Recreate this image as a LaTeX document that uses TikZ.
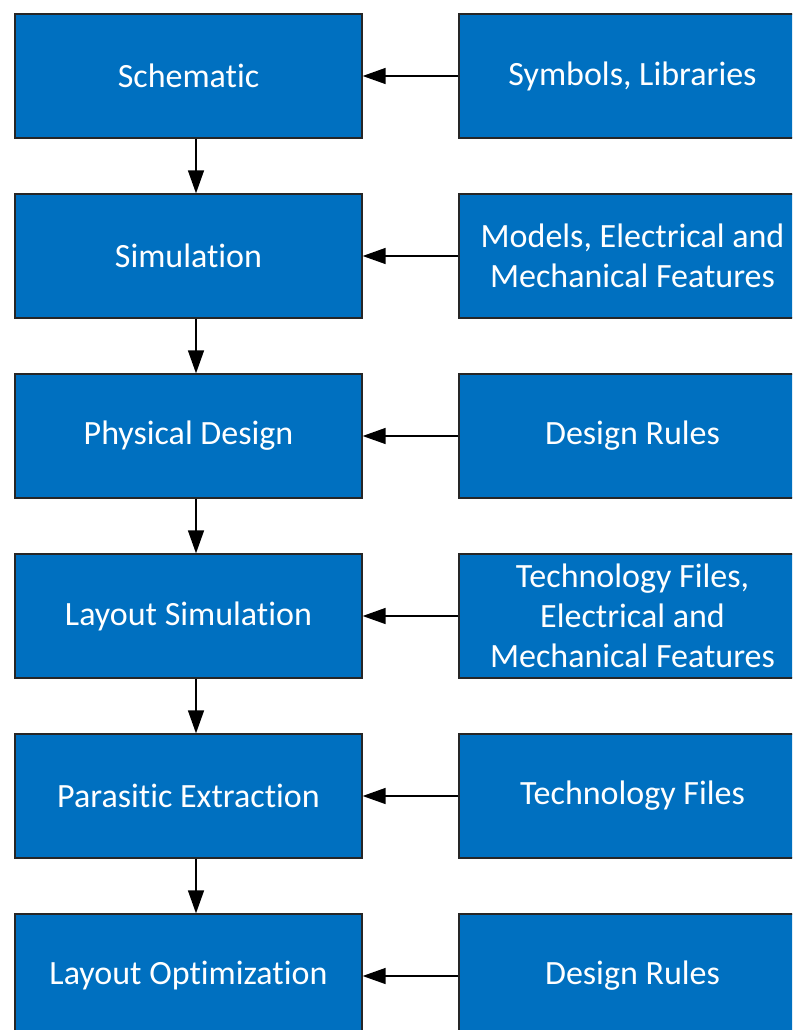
\documentclass[tikz,border=0pt]{standalone}
\usepackage{fontspec}
\setmainfont{Carlito}[Ligatures=NoCommon]
\usetikzlibrary{arrows.meta}
\definecolor{flowblue}{HTML}{0070C0}
\tikzset{
  stage/.style={draw=black!85, line width=1.3pt, fill=flowblue, text=white,
    minimum width=347pt, minimum height=124pt, inner sep=0pt, align=center,
    font=\fontsize{34}{40}\selectfont},
  feed/.style={-{Triangle[length=23pt,width=16pt]}, line width=1.4pt}
}
\begin{document}
\begin{tikzpicture}[x=1pt,y=-1pt]
      % page frame
      \useasboundingbox (0,0) rectangle (792,1030);
      \clip (0,0) rectangle (792,1030);
      % Flow stages
      \node[stage] (sch) at (188.5,76) {Schematic};
      \node[stage] (sim) at (188.5,256) {Simulation};
      \node[stage] (phy) at (188.5,436) {Physical Design};
      \node[stage] (lsim) at (188.5,616) {Layout Simulation};
      \node[stage] (pex) at (188.5,796) {Parasitic Extraction};
      \node[stage] (lopt) at (188.5,976) {Layout Optimization};
      % Inputs
      \node[stage] (sym) at (632.5,76) {Symbols, Libraries};
      \node[stage] (mod) at (632.5,256) {Models, Electrical and\\Mechanical Features};
      \node[stage] (drc) at (632.5,436) {Design Rules};
      \node[stage] (tech) at (632.5,616) {Technology Files,\\Electrical and\\Mechanical Features};
      \node[stage] (tfile) at (632.5,796) {Technology Files};
      \node[stage] (drc2) at (632.5,976) {Design Rules};
      % the flow
      \draw[feed] ([xshift=7.5pt]sch.south) -- ([xshift=7.5pt]sim.north);
      \draw[feed] ([xshift=7.5pt]sim.south) -- ([xshift=7.5pt]phy.north);
      \draw[feed] ([xshift=7.5pt]phy.south) -- ([xshift=7.5pt]lsim.north);
      \draw[feed] ([xshift=7.5pt]lsim.south) -- ([xshift=7.5pt]pex.north);
      \draw[feed] ([xshift=7.5pt]pex.south) -- ([xshift=7.5pt]lopt.north);
      % inputs into each stage
      \draw[feed] (sym.west) -- (sch.east);
      \draw[feed] (mod.west) -- (sim.east);
      \draw[feed] (drc.west) -- (phy.east);
      \draw[feed] (tech.west) -- (lsim.east);
      \draw[feed] (tfile.west) -- (pex.east);
      \draw[feed] (drc2.west) -- (lopt.east);
\end{tikzpicture}
\end{document}
